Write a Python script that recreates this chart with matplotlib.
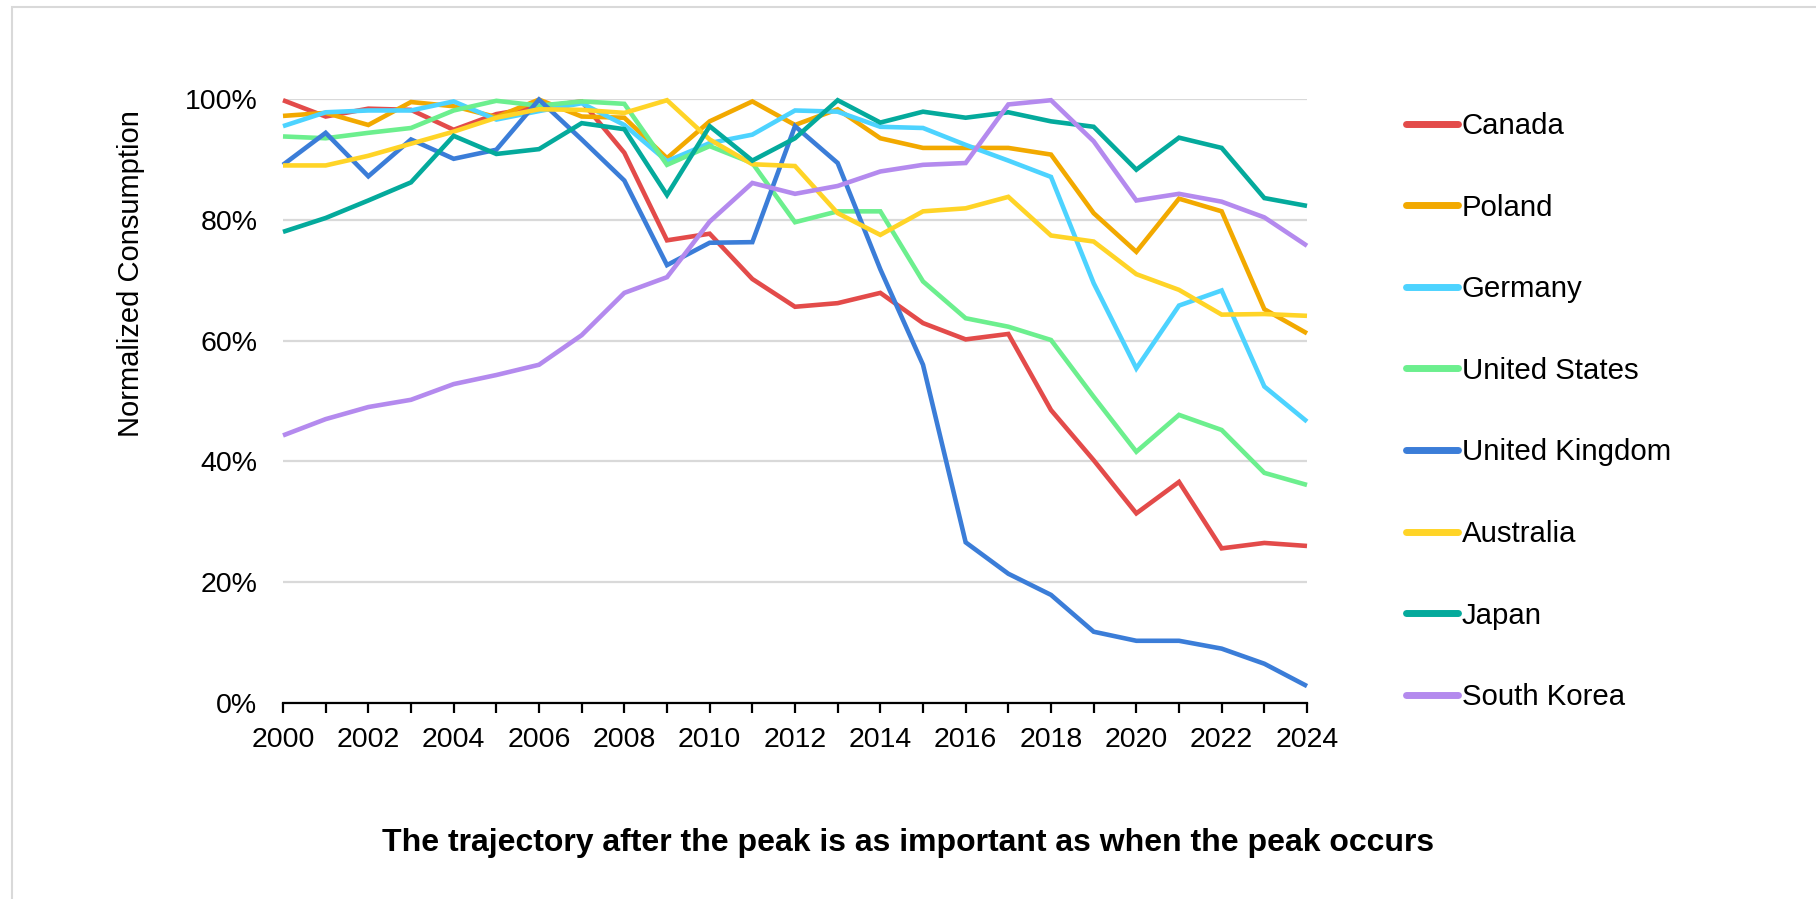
import matplotlib
matplotlib.use("Agg")
import matplotlib.pyplot as plt
from matplotlib.patches import Rectangle
from matplotlib.ticker import MultipleLocator, PercentFormatter

plt.rcParams["font.family"] = ["Liberation Sans", "DejaVu Sans"]

YEARS = list(range(2000, 2025))

CANADA = [99.8, 97.1, 98.4, 98.2, 94.9, 97.5, 98.7, 99.6, 91.1, 76.6, 77.7,
          70.2, 65.6, 66.2, 67.9, 62.9, 60.2, 61.1, 48.5, 40.2, 31.4, 36.6,
          25.6, 26.5, 26.0]
POLAND = [97.2, 97.7, 95.7, 99.5, 98.8, 97.0, 99.9, 97.1, 96.9, 90.2, 96.3,
          99.6, 95.7, 98.3, 93.5, 91.9, 91.9, 91.9, 90.8, 81.1, 74.7, 83.5,
          81.4, 65.2, 61.2]
GERMANY = [95.5, 97.8, 98.1, 98.1, 99.6, 96.6, 98.0, 99.3, 95.7, 89.7, 92.7,
           94.1, 98.1, 97.9, 95.4, 95.2, 92.4, 89.8, 87.1, 69.5, 55.4, 65.8,
           68.3, 52.4, 46.6]
UNITED_STATES = [93.8, 93.5, 94.4, 95.2, 98.1, 99.7, 98.9, 99.6, 99.2, 89.1,
                 92.2, 89.4, 79.6, 81.4, 81.4, 69.8, 63.7, 62.3, 60.1, 50.7,
                 41.6, 47.7, 45.2, 38.1, 36.1]
UNITED_KINGDOM = [89.1, 94.4, 87.2, 93.3, 90.1, 91.6, 99.9, 93.3, 86.5, 72.5,
                  76.2, 76.3, 95.5, 89.4, 71.8, 56.0, 26.6, 21.4, 17.9, 11.8,
                  10.3, 10.3, 9.0, 6.5, 2.8]
AUSTRALIA = [89.0, 89.0, 90.6, 92.6, 94.6, 96.9, 98.3, 98.2, 97.7, 99.8, 93.3,
             89.2, 88.9, 81.1, 77.5, 81.4, 81.9, 83.8, 77.4, 76.4, 71.0, 68.4,
             64.3, 64.4, 64.1]
JAPAN = [78.0, 80.3, 83.2, 86.2, 93.9, 90.9, 91.7, 96.0, 95.0, 84.1, 95.5,
         89.8, 93.5, 99.8, 96.1, 97.9, 96.9, 97.8, 96.3, 95.4, 88.3, 93.6,
         91.9, 83.6, 82.3]
SOUTH_KOREA = [44.3, 47.0, 49.0, 50.2, 52.8, 54.3, 56.0, 60.9, 67.9, 70.5,
               79.7, 86.1, 84.3, 85.6, 88.0, 89.1, 89.4, 99.1, 99.8, 93.0,
               83.2, 84.3, 83.0, 80.4, 75.7]

SERIES = [
    ("Canada", CANADA, "#E34B4A"),
    ("Poland", POLAND, "#F2A900"),
    ("Germany", GERMANY, "#4DD3FF"),
    ("United States", UNITED_STATES, "#6CEF8E"),
    ("United Kingdom", UNITED_KINGDOM, "#3B7DD8"),
    ("Australia", AUSTRALIA, "#FFD427"),
    ("Japan", JAPAN, "#04AA9C"),
    ("South Korea", SOUTH_KOREA, "#B48AEE"),
]

TITLE = "The trajectory after the peak is as important as when the peak occurs"
YLABEL = "Normalized Consumption"

W, H = 1816, 899
FS = 20.5

fig = plt.figure(figsize=(W / 100, H / 100), dpi=100)
fig.patch.set_facecolor("white")

# light frame round the chart (runs off the right/bottom edge)
fig.add_artist(Rectangle((12 / W, -0.05), 1.1, 1 - 7 / H + 0.05,
                         transform=fig.transFigure, fill=False,
                         edgecolor="#d9d9d9", linewidth=1.5))

ax = fig.add_axes([283 / W, 1 - 703 / H, (1307 - 283) / W, (703 - 99) / H])
ax.set_facecolor("none")

for name, vals, col in SERIES:
    ax.plot(YEARS, vals, color=col, linewidth=3.3, label=name,
            solid_joinstyle="miter", solid_capstyle="butt", clip_on=False)

ax.set_xlim(2000, 2024)
ax.set_ylim(0, 100)
ax.yaxis.set_major_locator(MultipleLocator(20))
ax.yaxis.set_major_formatter(PercentFormatter(decimals=0))
ax.xaxis.set_major_locator(MultipleLocator(2))
ax.xaxis.set_minor_locator(MultipleLocator(1))
ax.grid(axis="y", color="#d9d9d9", linewidth=1.6)
ax.set_axisbelow(True)

for side in ("top", "right", "left"):
    ax.spines[side].set_visible(False)
ax.spines["bottom"].set_color("black")
ax.spines["bottom"].set_linewidth(1.6)
ax.spines["bottom"].set_zorder(1)

ax.tick_params(axis="x", which="both", length=7, width=1.6, direction="out",
               labelsize=FS, pad=10.5)
ax.tick_params(axis="y", length=0, labelsize=FS, pad=18.5)

fig.text(131 / W, 1 - 274 / H, YLABEL, rotation=90, ha="center", va="center",
         fontsize=21)

fig.text(908 / W, 1 - 843 / H, TITLE, ha="center", va="center",
         fontsize=23, fontweight="bold")

leg = ax.legend(loc="upper left", bbox_to_anchor=(1406 / W, 1 - 112 / H),
                bbox_transform=fig.transFigure, frameon=False, fontsize=21.2,
                handlelength=1.75, handletextpad=0.15, labelspacing=1.82,
                borderaxespad=0, borderpad=0)
for h in leg.get_lines():
    h.set_linewidth(5)
    h.set_solid_capstyle("round")

fig.savefig("out.png", dpi=100, facecolor="white")
